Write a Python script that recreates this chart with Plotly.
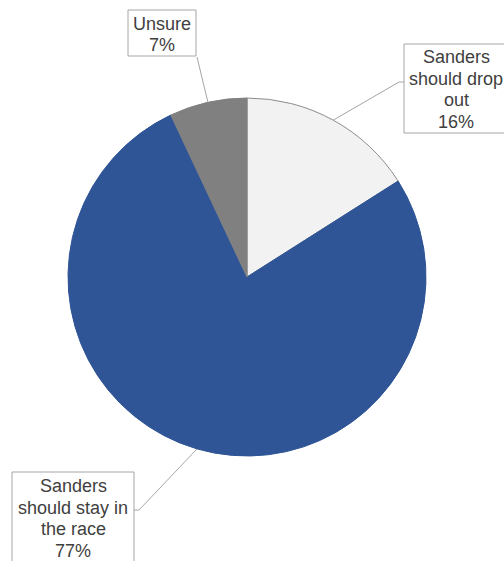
import math
import plotly.graph_objects as go

labels = ["Sanders should drop out", "Sanders should stay in the race", "Unsure"]
box_lines = [["Sanders", "should drop", "out", "16%"],
             ["Sanders", "should stay in", "the race", "77%"],
             ["Unsure", "7%"]]
values = [16, 77, 7]
colors = ["#F2F2F2", "#2F5597", "#808080"]

W, H = 504, 561
CX, CY, R = 247, 277, 179

fig = go.Figure(go.Pie(
    labels=labels, values=values, sort=False, direction="clockwise", rotation=0,
    marker=dict(colors=colors, line=dict(color=["#8C8C8C", "#2F5597", "#808080"], width=1)),
    textinfo="none", hoverinfo="label+percent", showlegend=False,
    domain=dict(x=[(CX - R) / W, (CX + R) / W], y=[1 - (CY + R) / H, 1 - (CY - R) / H]),
))

def px(x):
    return x / W

def py(y):
    return 1 - y / H

# label box layout (pixels): rect, text center, elbow points
boxes = [
    dict(rect=(404, 44, 512, 133), tx=456, ty=89.5, elbow=[(404, 82), (399, 82)]),
    dict(rect=(12, 472, 134, 575), tx=73, ty=518.5, elbow=[(134, 510), (139, 510)]),
    dict(rect=(128, 10, 196, 56), tx=162, ty=34.5, elbow=[(197, 57)]),
]
PITCH = 21.7

total = sum(values)
cum = 0
annotations = []
shapes = []
for i, v in enumerate(values):
    mid = (cum + v / 2) / total * 2 * math.pi
    cum += v
    ex = CX + R * math.sin(mid)
    ey = CY - R * math.cos(mid)
    b = boxes[i]
    x0, y0, x1, y1 = b["rect"]
    shapes.append(dict(type="rect", xref="paper", yref="paper",
                       x0=px(x0), x1=px(x1), y0=py(y0), y1=py(y1),
                       line=dict(color="#A6A6A6", width=1), fillcolor="white"))
    lines = box_lines[i]
    n = len(lines)
    for k, t in enumerate(lines):
        yc = b["ty"] + (k - (n - 1) / 2) * PITCH
        annotations.append(dict(
            x=px(b["tx"]), y=py(yc), xref="paper", yref="paper",
            xanchor="center", yanchor="middle", text=t, showarrow=False,
            font=dict(family="Arial, Liberation Sans, sans-serif", size=18, color="#404040"),
        ))
    pts = b["elbow"] + [(ex, ey)]
    path = "M " + " L ".join(f"{px(x)},{py(y)}" for x, y in pts)
    shapes.append(dict(type="path", xref="paper", yref="paper", path=path,
                       line=dict(color="#A6A6A6", width=1)))

fig.update_layout(
    width=W, height=H, margin=dict(l=0, r=0, t=0, b=0),
    paper_bgcolor="white", plot_bgcolor="white",
    annotations=annotations, shapes=shapes,
)
fig.write_html("out.html", config={"displayModeBar": False},
               post_script="document.body.style.margin='0';document.body.style.overflow='hidden';")
